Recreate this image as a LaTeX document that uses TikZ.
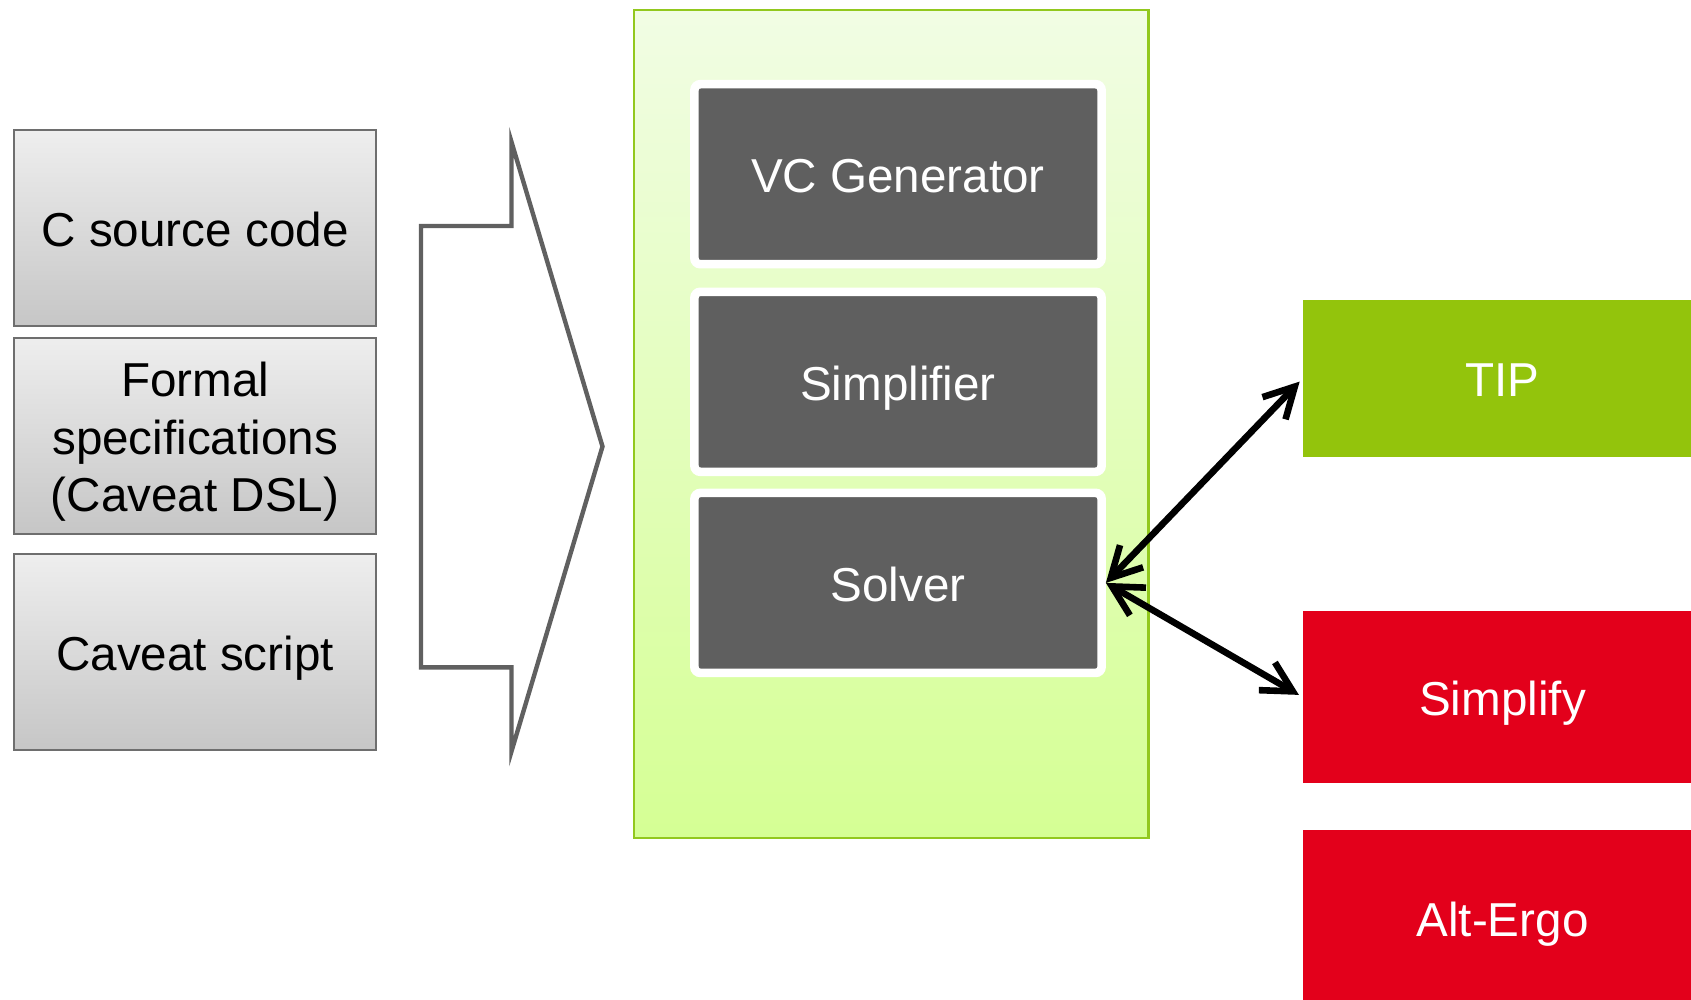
\documentclass[tikz,border=0pt]{standalone}
\usepackage{fontspec}
\setmainfont{Liberation Sans}
\usetikzlibrary{arrows.meta}
\definecolor{srctop}{HTML}{EEEEEE}
\definecolor{srcbot}{HTML}{C6C6C6}
\definecolor{srcline}{HTML}{6E6E6E}
\definecolor{bigarrow}{HTML}{606060}
\definecolor{coretop}{HTML}{F1FDE4}
\definecolor{corebot}{HTML}{D5FF94}
\definecolor{coreline}{HTML}{92C81E}
\definecolor{stepfill}{HTML}{5F5F5F}
\definecolor{tipgreen}{HTML}{93C40C}
\definecolor{solvred}{HTML}{E3001B}
\tikzset{
  txt/.style={font=\fontsize{23.8pt}{28.6pt}\selectfont, align=center, inner sep=0pt,
    text height=21.5pt, text depth=3pt},
  srcbox/.style={txt, draw=srcline, line width=1pt, top color=srctop, bottom color=srcbot,
    minimum width=181.2pt, minimum height=98pt, anchor=north west, text=black},
  corebox/.style={draw=coreline, line width=1.2pt, top color=coretop, bottom color=corebot,
    minimum width=257.2pt, minimum height=414.1pt, anchor=north west, inner sep=0pt},
  stagebox/.style={txt, fill=stepfill, draw=white, line width=4.3pt, rounded corners=3pt,
    minimum width=203.6pt, minimum height=90pt, text=white},
  toolbox/.style={txt, minimum width=199.4pt, anchor=north west, text=white},
  conn/.style={line width=3.3pt, line cap=round, {Straight Barb[length=15pt,width=16pt]}-{Straight Barb[length=15pt,width=16pt]}},
}
\begin{document}
\begin{tikzpicture}[x=0.5pt,y=-0.5pt]
\useasboundingbox (0,0) rectangle (1691,1000);
% inputs
\node[srcbox] (csrc) at (12.9,129.4) {C source code};
\node[srcbox, text height=78.7pt] (spec) at (12.9,336.5) {Formal\\specifications\\(Caveat DSL)};
\node[srcbox] (script) at (12.9,553.2) {Caveat script};
% big arrow
\draw[bigarrow, line width=2.2pt, line join=miter]
  (421,226) -- (511.5,226) -- (511.5,142) -- (602.5,446.5)
  -- (511.5,751.3) -- (511.5,667.3) -- (421,667.3) -- cycle;
% core
\node[corebox] (core) at (633,8.6) {};
\node[stagebox] (vcg) at (898,174.2) {VC Generator};
\node[stagebox] (simp) at (898,381.8) {Simplifier};
\node[stagebox] (solver) at (898,582.9) {Solver};
% tools
\node[toolbox, fill=tipgreen, minimum height=78.2pt] (tip) at (1302.7,299.8) {TIP};
\node[toolbox, fill=solvred, minimum height=86.3pt] (simplify) at (1302.7,610.4) {Simplify};
\node[toolbox, fill=solvred, minimum height=88.4pt] (altergo) at (1302.7,829.3) {Alt-Ergo};
% connectors
\draw[conn, shorten >=2.2pt] (solver.east) -- (tip.west);
\draw[conn, shorten >=2.2pt] (solver.east) -- (simplify.west);
\end{tikzpicture}
\end{document}
